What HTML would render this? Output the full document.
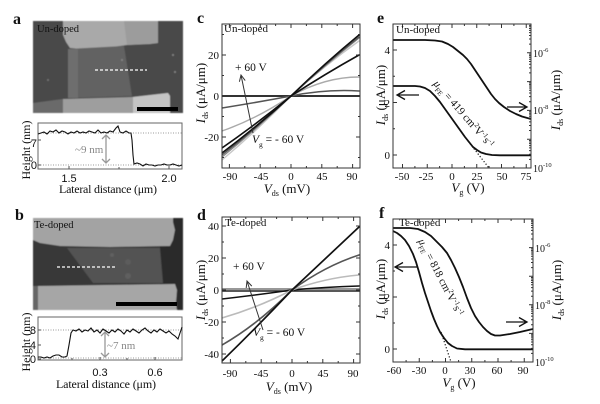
<!DOCTYPE html>
<html><head><meta charset="utf-8"><style>
html,body{margin:0;padding:0;background:#fff;}
svg{display:block;}
text{font-family:"Liberation Serif",serif;fill:#111;}
.sans{font-family:"Liberation Sans",sans-serif;}
</style></head><body>
<svg width="600" height="404" viewBox="0 0 600 404" xmlns="http://www.w3.org/2000/svg">
<defs>
<filter id="soft"><feGaussianBlur stdDeviation="0.6"/></filter>
<clipPath id="cc"><rect x="222" y="24" width="138" height="144"/></clipPath>
<clipPath id="cd"><rect x="222" y="217" width="138" height="146"/></clipPath>
<clipPath id="ce"><rect x="393" y="24" width="138" height="144"/></clipPath>
<clipPath id="cf"><rect x="393" y="219" width="140" height="143"/></clipPath>
</defs>
<rect width="600" height="404" fill="#fff"/>

<!-- panel letters -->
<g font-weight="bold" font-size="16">
<text x="13" y="24">a</text><text x="15" y="220">b</text>
<text x="197" y="23">c</text><text x="197" y="220">d</text>
<text x="377" y="23">e</text><text x="379" y="218">f</text>
</g>

<!-- ===== image a ===== -->
<g filter="url(#soft)">
<rect x="33" y="21" width="150" height="92" fill="#4a4a4a"/>
<polygon points="63,21 158,21 158,43 150,44 127,45 100,49 93,50 70,48 66,42 63,35" fill="#a9a9a9"/>
<polygon points="124,21 158,21 158,43 127,45" fill="#9c9c9c"/>
<polygon points="68,49 124,46 132,96 68,98" fill="#626262"/>
<polygon points="68,49 78,49 78,98 68,98" fill="#6e6e6e"/>
<polygon points="33,103 63,99 63,113 33,113" fill="#6a6a6a"/>
<polygon points="63,99 133,97 168,93 170,96 170,113 63,113" fill="#9e9e9e"/>
<polygon points="133,97 168,93 170,96 170,113 133,113" fill="#c4c4c4"/>
<circle cx="122" cy="60" r="1" fill="#888"/><circle cx="173" cy="55" r="1" fill="#888"/><circle cx="48" cy="80" r="1" fill="#777"/><circle cx="175" cy="72" r="1" fill="#888"/>
</g>
<rect x="137" y="107" width="41" height="4" fill="#000"/>
<line x1="95" y1="70" x2="147" y2="70" stroke="#fff" stroke-width="1.3" stroke-dasharray="3,2"/>
<text x="37" y="32" font-size="10.5">Un-doped</text>

<!-- profile a -->
<rect x="38" y="123" width="144" height="46" fill="#fff" stroke="#666" stroke-width="1"/>
<line x1="38" y1="133" x2="182" y2="133" stroke="#999" stroke-dasharray="1,1.5"/>
<line x1="38" y1="165" x2="182" y2="165" stroke="#999" stroke-dasharray="1,1.5"/>
<path d="M38 140h3M38 165h3M69 169v-3M169 169v-3M119 169v-2" stroke="#555"/>
<polyline fill="none" stroke="#111" stroke-width="1.1" points="38,134 41,133 44,132 47,134 50,131 53,132 56,130 59,133 62,131 65,132 68,134 71,132 74,133 77,131 80,133 83,132 86,133 89,131 92,132 95,133 98,130 101,133 104,132 107,133 110,131 113,132 116,128 118,126 120,132 123,133 126,131 129,133 131,133 132,140 133,155 134,164 137,163 140,164 143,166 146,164 149,165 152,165 155,166 158,165 161,165 164,164 167,165 170,165 173,164 176,165 179,166 182,165"/>
<g stroke="#999" stroke-width="1.3" fill="none"><path d="M106 135V163M102 139L106 135L110 139M102 159L106 163L110 159"/></g>
<text x="75" y="153" font-size="11" style="fill:#888">~9 nm</text>
<g class="sans" font-size="11" text-anchor="end"><text class="sans" x="37" y="147">7</text><text class="sans" x="37" y="169">0</text></g>
<g font-size="11" text-anchor="middle"><text class="sans" x="69" y="182">1.5</text><text class="sans" x="169" y="182">2.0</text></g>
<text x="108" y="193" font-size="12" text-anchor="middle" textLength="98">Lateral distance (μm)</text>
<text transform="translate(30,150) rotate(-90)" font-size="12" text-anchor="middle">Height (nm)</text>

<!-- ===== image b ===== -->
<g filter="url(#soft)">
<rect x="33" y="218" width="150" height="92" fill="#393939"/>
<rect x="160" y="218" width="23" height="92" fill="#2c2c2c"/>
<polygon points="33,218 173,218 173,222 175,230 173,240 170,246 110,247 60,246 40,243 33,240" fill="#a3a3a3"/>
<polygon points="67,248 160,248 163,283 93,283" fill="#525252"/>
<circle cx="128" cy="262" r="3" fill="#5c5c5c"/><circle cx="128" cy="276" r="3" fill="#5e5e5e"/><circle cx="112" cy="255" r="2" fill="#606060"/>
<polygon points="33,286 38,286 38,310 33,310" fill="#666"/>
<polygon points="38,286 175,284 177,290 176,303 177,310 38,310" fill="#a6a6a6"/>
</g>
<rect x="116" y="302" width="61" height="4" fill="#000"/>
<line x1="57" y1="267" x2="115" y2="267" stroke="#fff" stroke-width="1.3" stroke-dasharray="3,2"/>
<text x="34" y="228" font-size="10.5">Te-doped</text>

<!-- profile b -->
<rect x="38" y="317" width="144" height="43" fill="#fff" stroke="#666" stroke-width="1"/>
<line x1="38" y1="330" x2="182" y2="330" stroke="#999" stroke-dasharray="1,1.5"/>
<line x1="38" y1="358" x2="182" y2="358" stroke="#999" stroke-dasharray="1,1.5"/>
<path d="M38 330h3M38 345h3M38 359h3M100 360v-3M155 360v-3M72 360v-2M127 360v-2" stroke="#555"/>
<polyline fill="none" stroke="#111" stroke-width="1.1" points="38,357 41,357 44,358 47,357 50,358 53,356 56,355 59,355 62,357 65,357 67,356 69,345 71,333 73,330 76,331 79,329 82,332 85,330 88,331 91,328 94,332 97,330 100,333 103,329 106,331 109,333 112,330 115,332 118,329 121,331 124,334 127,330 130,332 133,329 136,331 139,333 142,330 145,328 148,331 151,333 154,330 157,332 160,329 163,331 166,333 169,331 172,334 175,336 178,339 180,333 182,327"/>
<g stroke="#999" stroke-width="1.3" fill="none"><path d="M105 332V357M101 336L105 332L109 336M101 353L105 357L109 353"/></g>
<text x="107" y="349" font-size="11" style="fill:#888">~7 nm</text>
<g font-size="11" text-anchor="end"><text class="sans" x="36" y="334">8</text><text class="sans" x="36" y="349">4</text><text class="sans" x="36" y="363">0</text></g>
<g font-size="11" text-anchor="middle"><text class="sans" x="100" y="376">0.3</text><text class="sans" x="155" y="376">0.6</text></g>
<text x="106" y="388" font-size="12" text-anchor="middle" textLength="100">Lateral distance (μm)</text>
<text transform="translate(30,342) rotate(-90)" font-size="12" text-anchor="middle">Height (nm)</text>

<!-- ===== panel c ===== -->
<g clip-path="url(#cc)" fill="none" stroke-linecap="round">
<path d="M222 96H360" stroke="#333" stroke-width="2"/>
<path d="M222 108Q256.5 102.5 291 96Q325 89 359 91" stroke="#555" stroke-width="1.5"/>
<path d="M222 131Q256.5 119 291 96Q325 77 359 77" stroke="#aaa" stroke-width="1.4"/>
<path d="M222 160Q256.5 131 291 96Q325 65 359 41" stroke="#c8c8c8" stroke-width="1.4"/>
<path d="M222 157Q256.5 129 291 96Q325 65 359 38" stroke="#888" stroke-width="1.4"/>
<path d="M222 155Q256.5 128 291 96Q325 64 359 37" stroke="#555" stroke-width="1.4"/>
<path d="M222 148Q256.5 124 291 96Q325 74 359 55" stroke="#111" stroke-width="1.6"/>
<path d="M222 153Q256.5 127 291 96Q325 63 359 35" stroke="#111" stroke-width="1.6"/>
</g>
<rect x="222" y="24" width="138" height="144" fill="none" stroke="#333"/>
<path stroke="#333" d="M229.4 168v-4M260.2 168v-4M291 168v-4M321.8 168v-4M352.6 168v-4M244.8 168v-2M275.6 168v-2M306.4 168v-2M337.2 168v-2M229.4 24v4M260.2 24v4M291 24v4M321.8 24v4M352.6 24v4M244.8 24v2M275.6 24v2M306.4 24v2M337.2 24v2M222 55h4M222 96h4M222 137h4M222 34.5h2M222 75.5h2M222 116.5h2M222 157.5h2M360 55h-4M360 96h-4M360 137h-4M360 34.5h-2M360 75.5h-2M360 116.5h-2M360 157.5h-2"/>
<text x="224" y="32" font-size="11">Un-doped</text>
<g font-size="11" text-anchor="end"><text x="219" y="59">20</text><text x="219" y="100">0</text><text x="219" y="141">-20</text></g>
<g font-size="11" text-anchor="middle"><text x="230" y="180">-90</text><text x="261" y="180">-45</text><text x="291" y="180">0</text><text x="322" y="180">45</text><text x="352" y="180">90</text></g>
<text x="287" y="193" font-size="13" text-anchor="middle"><tspan font-style="italic">V</tspan><tspan font-size="8" dy="3">ds</tspan><tspan dy="-3"> (mV)</tspan></text>
<text transform="translate(205,93) rotate(-90)" font-size="13" text-anchor="middle"><tspan font-style="italic">I</tspan><tspan font-size="8" dy="3">ds</tspan><tspan dy="-3"> (μA/μm)</tspan></text>
<g stroke="#333" stroke-width="1" fill="none"><path d="M253 133L241 75M239.4 81.8L241 75L245.2 80.6"/></g>
<text x="235" y="71" font-size="11.5">+ 60 V</text>
<text x="252" y="143" font-size="11.5"><tspan font-style="italic">V</tspan><tspan font-size="7.5" dy="4">g</tspan><tspan dy="-4"> = - 60 V</tspan></text>

<!-- ===== panel d ===== -->
<g clip-path="url(#cd)" fill="none" stroke-linecap="round">
<path d="M222 289H360" stroke="#777" stroke-width="1.5"/>
<path d="M222 291H360" stroke="#222" stroke-width="1.5"/>
<path d="M222 299Q257 295 292 290Q325 287 359 286" stroke="#111" stroke-width="1.5"/>
<path d="M222 318Q257 308 292 290Q325 278 359 275" stroke="#bbb" stroke-width="1.6"/>
<path d="M222 345Q257 325 292 290Q325 266 359 255" stroke="#555" stroke-width="1.6"/>
<path d="M222 361Q257 327 292 290Q325 259 359 227" stroke="#111" stroke-width="1.7"/>
</g>
<rect x="222" y="217" width="138" height="146" fill="none" stroke="#333"/>
<path stroke="#333" d="M230.4 363v-4M261.2 363v-4M292 363v-4M322.8 363v-4M353.6 363v-4M245.8 363v-2M276.6 363v-2M307.4 363v-2M338.2 363v-2M230.4 217v4M261.2 217v4M292 217v4M322.8 217v4M353.6 217v4M245.8 217v2M276.6 217v2M307.4 217v2M338.2 217v2M222 226h4M222 258h4M222 290h4M222 322h4M222 354h4M222 242h2M222 274h2M222 306h2M222 338h2M360 226h-4M360 258h-4M360 290h-4M360 322h-4M360 354h-4M360 242h-2M360 274h-2M360 306h-2M360 338h-2"/>
<text x="225" y="226" font-size="11">Te-doped</text>
<g font-size="11" text-anchor="end"><text x="219" y="230">40</text><text x="219" y="262">20</text><text x="219" y="294">0</text><text x="219" y="326">-20</text><text x="219" y="358">-40</text></g>
<g font-size="11" text-anchor="middle"><text x="230" y="377">-90</text><text x="261" y="377">-45</text><text x="292" y="377">0</text><text x="323" y="377">45</text><text x="353" y="377">90</text></g>
<text x="289" y="391" font-size="13" text-anchor="middle"><tspan font-style="italic">V</tspan><tspan font-size="8" dy="3">ds</tspan><tspan dy="-3"> (mV)</tspan></text>
<text transform="translate(205,290) rotate(-90)" font-size="13" text-anchor="middle"><tspan font-style="italic">I</tspan><tspan font-size="8" dy="3">ds</tspan><tspan dy="-3"> (μA/μm)</tspan></text>
<g stroke="#333" stroke-width="1" fill="none"><path d="M263 330L247 281M246.2 288L247 281L251.8 286.1"/></g>
<text x="233" y="270" font-size="11.5">+ 60 V</text>
<text x="253" y="336" font-size="11.5"><tspan font-style="italic">V</tspan><tspan font-size="7.5" dy="4">g</tspan><tspan dy="-4"> = - 60 V</tspan></text>

<!-- ===== panel e ===== -->
<g clip-path="url(#ce)" fill="none" stroke="#111" stroke-width="1.8" stroke-linejoin="round">
<polyline points="393,40 425,40 435,40.5 442,41.5 448,44 453,47 458,51 463,55 467,59 471,64 475,70 479,76 483,82 487,88 491,94 495,99 499,103 504,107 510,111 516,114 522,116.5 531,119"/>
<polyline points="393,86 415,86 420,86.5 425,88 430,91 435,96 440,102 445,109 450,116 455,123 460,130 465,137 469,142 473,147 477,150 481,152.5 486,154 492,155 500,155.3 531,155.3"/>
<line x1="468" y1="141" x2="489" y2="168" stroke-width="1.2" stroke-dasharray="1.2,2"/>
</g>
<rect x="393" y="24" width="138" height="144" fill="none" stroke="#333"/>
<path stroke="#333" d="M402.5 168v-4M427.25 168v-4M452 168v-4M476.75 168v-4M501.5 168v-4M526.25 168v-4M414.9 168v-2M439.6 168v-2M464.4 168v-2M489.1 168v-2M513.9 168v-2M402.5 24v4M427.25 24v4M452 24v4M476.75 24v4M501.5 24v4M526.25 24v4M414.9 24v2M439.6 24v2M464.4 24v2M489.1 24v2M513.9 24v2M393 50h4M393 102.5h4M393 155h4M393 76.25h2M393 128.75h2"/>
<path stroke="#333" d="M531 168h-4M531 139.2h-4M531 110.4h-4M531 81.6h-4M531 52.8h-4M531 24h-4M531 159.33h-2M531 154.26h-2M531 150.66h-2M531 147.87h-2M531 145.59h-2M531 143.66h-2M531 141.99h-2M531 140.52h-2M531 130.53h-2M531 125.46h-2M531 121.86h-2M531 119.07h-2M531 116.79h-2M531 114.86h-2M531 113.19h-2M531 111.72h-2M531 101.73h-2M531 96.66h-2M531 93.06h-2M531 90.27h-2M531 87.99h-2M531 86.06h-2M531 84.39h-2M531 82.92h-2M531 72.93h-2M531 67.86h-2M531 64.26h-2M531 61.47h-2M531 59.19h-2M531 57.26h-2M531 55.59h-2M531 54.12h-2M531 44.13h-2M531 39.06h-2M531 35.46h-2M531 32.67h-2M531 30.39h-2M531 28.46h-2M531 26.79h-2M531 25.32h-2"/>
<text x="396" y="33" font-size="11">Un-doped</text>
<g font-size="11" text-anchor="end"><text x="390" y="54">4</text><text x="390" y="107">2</text><text x="390" y="159">0</text></g>
<g font-size="11" text-anchor="middle"><text x="402" y="180">-50</text><text x="426" y="180">-25</text><text x="452" y="180">0</text><text x="477" y="180">25</text><text x="502" y="180">50</text><text x="526" y="180">75</text></g>
<g font-size="10"><text x="533" y="57">10<tspan font-size="6.5" dy="-5">-6</tspan></text><text x="533" y="114">10<tspan font-size="6.5" dy="-5">-8</tspan></text><text x="533" y="172">10<tspan font-size="6.5" dy="-5">-10</tspan></text></g>
<text x="468" y="192" font-size="13" text-anchor="middle"><tspan font-style="italic">V</tspan><tspan font-size="8" dy="3">g</tspan><tspan dy="-3"> (V)</tspan></text>
<text transform="translate(385,95) rotate(-90)" font-size="13" text-anchor="middle"><tspan font-style="italic">I</tspan><tspan font-size="8" dy="3">ds</tspan><tspan dy="-3"> (μA/μm)</tspan></text>
<text transform="translate(560,100) rotate(-90)" font-size="13" text-anchor="middle"><tspan font-style="italic">I</tspan><tspan font-size="8" dy="3">ds</tspan><tspan dy="-3"> (μA/μm)</tspan></text>
<g stroke="#111" stroke-width="1.3" fill="none"><path d="M397 95H419M405 90.5L397 95L405 99.5M507 107H527M519 102.5L527 107L519 111.5"/></g>
<text transform="translate(433,84) rotate(49)" font-size="11"><tspan font-style="italic">μ</tspan><tspan font-size="7" dy="3">FE</tspan><tspan dy="-3"> = 419 cm</tspan><tspan font-size="7" dy="-4">2</tspan><tspan dy="4">V</tspan><tspan font-size="7" dy="-4">-1</tspan><tspan dy="4">s</tspan><tspan font-size="7" dy="-4">-1</tspan></text>

<!-- ===== panel f ===== -->
<g clip-path="url(#cf)" fill="none" stroke="#111" stroke-width="1.8" stroke-linejoin="round">
<polyline points="393,228 410,228 418,229 425,232 431,236 437,242 442,247 447,253 451,260 455,268 459,277 463,287 467,298 471,308 475,316 479,322 483,327 487,331 491,334 495,335.5 500,335.5 510,334 520,332 533,329"/>
<polyline points="393,231 397,233 401,236 405,240 409,246 413,254 416,262 419,272 422,283 425,293 428,302 431,311 434,319 437,326 440,332 444,338 448,343 452,346 457,348.5 465,349.3 533,349.3"/>
<line x1="441" y1="332" x2="451" y2="362" stroke-width="1.2" stroke-dasharray="1.2,2"/>
</g>
<rect x="393" y="219" width="140" height="143" fill="none" stroke="#333"/>
<path stroke="#333" d="M419.25 362v-4M445.5 362v-4M471.75 362v-4M498 362v-4M524.25 362v-4M406.1 362v-2M432.4 362v-2M458.6 362v-2M484.9 362v-2M511.1 362v-2M419.25 219v4M445.5 219v4M471.75 219v4M498 219v4M524.25 219v4M406.1 219v2M432.4 219v2M458.6 219v2M484.9 219v2M511.1 219v2M393 245h4M393 297h4M393 349h4M393 271h2M393 323h2"/>
<path stroke="#333" d="M533 362h-4M533 333.4h-4M533 304.8h-4M533 276.2h-4M533 247.6h-4M533 353.39h-2M533 348.35h-2M533 344.78h-2M533 342.01h-2M533 339.75h-2M533 337.83h-2M533 336.17h-2M533 334.71h-2M533 324.79h-2M533 319.75h-2M533 316.18h-2M533 313.41h-2M533 311.15h-2M533 309.23h-2M533 307.57h-2M533 306.11h-2M533 296.19h-2M533 291.15h-2M533 287.58h-2M533 284.81h-2M533 282.55h-2M533 280.63h-2M533 278.97h-2M533 277.51h-2M533 267.59h-2M533 262.55h-2M533 258.98h-2M533 256.21h-2M533 253.95h-2M533 252.03h-2M533 250.37h-2M533 248.91h-2M533 238.99h-2M533 233.95h-2M533 230.38h-2M533 227.61h-2M533 225.35h-2M533 223.43h-2M533 221.77h-2M533 220.31h-2"/>
<text x="399" y="226" font-size="11">Te-doped</text>
<g font-size="11" text-anchor="end"><text x="390" y="249">4</text><text x="390" y="301">2</text><text x="390" y="353">0</text></g>
<g font-size="11" text-anchor="middle"><text x="394" y="374">-60</text><text x="419" y="374">-30</text><text x="445" y="374">0</text><text x="470" y="374">30</text><text x="497" y="374">60</text><text x="523" y="374">90</text></g>
<g font-size="10"><text x="535" y="252">10<tspan font-size="6.5" dy="-5">-6</tspan></text><text x="535" y="309">10<tspan font-size="6.5" dy="-5">-8</tspan></text><text x="535" y="366">10<tspan font-size="6.5" dy="-5">-10</tspan></text></g>
<text x="459" y="387" font-size="13" text-anchor="middle"><tspan font-style="italic">V</tspan><tspan font-size="8" dy="3">g</tspan><tspan dy="-3"> (V)</tspan></text>
<text transform="translate(385,289) rotate(-90)" font-size="13" text-anchor="middle"><tspan font-style="italic">I</tspan><tspan font-size="8" dy="3">ds</tspan><tspan dy="-3"> (μA/μm)</tspan></text>
<text transform="translate(561,290) rotate(-90)" font-size="13" text-anchor="middle"><tspan font-style="italic">I</tspan><tspan font-size="8" dy="3">ds</tspan><tspan dy="-3"> (μA/μm)</tspan></text>
<g stroke="#111" stroke-width="1.3" fill="none"><path d="M395 267H417M403 262.5L395 267L403 271.5M506 322H527M519 317.5L527 322L519 326.5"/></g>
<text transform="translate(418,241) rotate(62.5)" font-size="11"><tspan font-style="italic">μ</tspan><tspan font-size="7" dy="3">FE</tspan><tspan dy="-3"> = 818 cm</tspan><tspan font-size="7" dy="-4">2</tspan><tspan dy="4">V</tspan><tspan font-size="7" dy="-4">-1</tspan><tspan dy="4">s</tspan><tspan font-size="7" dy="-4">-1</tspan></text>
</svg>
</body></html>
